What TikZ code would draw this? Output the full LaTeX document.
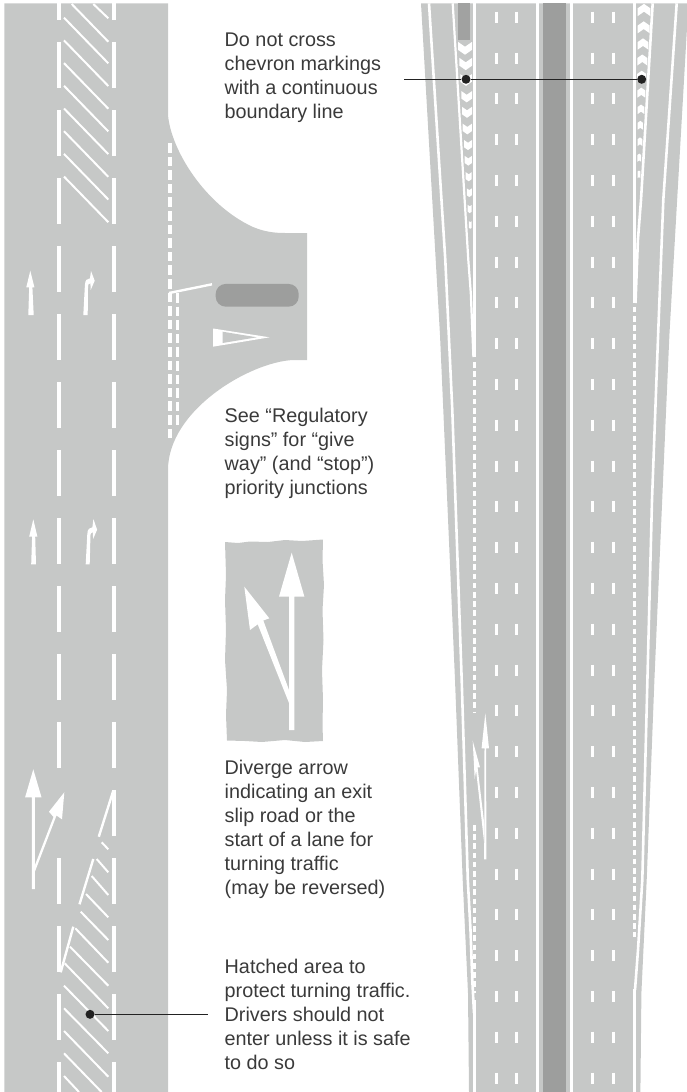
\documentclass[tikz,border=0pt]{standalone}
\usepackage{fontspec}
\setmainfont{Liberation Sans}
\definecolor{roadgrey}{HTML}{C6C8C7}
\definecolor{islandgrey}{HTML}{9D9E9D}
\definecolor{inkgrey}{HTML}{3A3A3A}
\definecolor{leaderink}{HTML}{222222}
\tikzset{
  x=1pt,y=-1pt,
  road/.style={fill=roadgrey,draw=none},
  paint/.style={fill=white,draw=none},
  dashline/.style={white,line width=3.7pt},
  hatchline/.style={white,line width=2pt},
  laneline/.style={white,line width=3pt},
  sideline/.style={white,line width=2.4pt},
  dotline/.style={white,line width=3.2pt,dash pattern=on 5.6pt off 3.6pt},
  giveway/.style={white,line width=4pt,dash pattern=on 9.6pt off 4pt},
  caption/.style={font=\fontsize{19.8}{24}\selectfont,text=inkgrey,align=left,anchor=north west,inner sep=0pt},
  leaderdot/.style={circle,fill=leaderink,draw=none,minimum size=9pt,inner sep=0pt},
  leader/.style={leaderink,line width=1.4pt},
}
\begin{document}
\begin{tikzpicture}
\useasboundingbox (0,0) rectangle (687,1092);
% ---------- left road
\fill[road] (4.4,3.3) -- (168,3.3) -- (168,115)
  .. controls (171,150) and (205,205) .. (253,227)
  .. controls (265,232) and (275,233) .. (285,233)
  -- (307,233) -- (307,360) -- (293,360)
  .. controls (250,362) and (168,410) .. (168,470)
  -- (168,1092) -- (4.4,1092) -- cycle;
% lane dashes
\foreach \yy in {42,110,...,1062}{
  \pgfmathsetmacro{\yb}{min(\yy+46,1092)}
  \draw[dashline] (114,\yy) -- (114,\yb);
  \ifnum\yy=790\else\draw[dashline] (59,\yy) -- (59,\yb);\fi
}
\draw[dashline] (59,3.3) -- (59,20);
\draw[dashline] (114,3.3) -- (114,20);
% upper hatching
\draw[hatchline] (71.7,4) -- (108.3,41.7);
\draw[hatchline] (93.3,4) -- (108.3,18.3);
\foreach \yy in {17.7,40.4,63.1,85.8,108.5,131.2,153.9,176.6}{
  \draw[hatchline] (64,\yy) -- (108.3,\yy+45.6);
}
% turning-lane arrows
\fill[paint] (30.3,270.7) -- (34.4,287.3) -- (32.4,287.3) -- (33.7,315) -- (28.3,315) -- (29.2,287.3) -- (26.3,287.3) -- cycle;
\fill[paint] (83.3,315) -- (84.9,285) .. controls (85.2,280) and (87,278.5) .. (90,278.3)
  -- (91,271) -- (94.7,280.7) -- (90.7,290) -- (90.4,283.2) .. controls (88.5,283.4) and (88,284.5) .. (88,288.3) -- (87.7,315) -- cycle;
\fill[paint] (33.3,519.3) -- (37.4,536.7) -- (35.2,536.7) -- (36,564.3) -- (31.2,564.3) -- (32.1,536.7) -- (29.2,536.7) -- cycle;
\fill[paint] (85.7,564.3) -- (87.3,534) .. controls (87.6,529) and (89.4,527.5) .. (92.4,527.3)
  -- (93.4,519) -- (97.1,529.7) -- (93.1,539) -- (92.8,532.2) .. controls (90.9,532.4) and (90.4,533.5) .. (90.4,537.3) -- (89.7,564.3) -- cycle;
% junction give-way markings
\draw[giveway] (170,143) -- (170,438);
\draw[white,line width=3pt,dash pattern=on 9.6pt off 4pt] (177.5,293) -- (177.5,425);
\coordinate (stopA) at (169,293);
\coordinate (stopB) at (212,284.3);
\draw[white,line width=2.4pt] (stopA) -- (stopB);
\node[name=island,fill=islandgrey,rounded corners=10pt,minimum width=83pt,minimum height=22.7pt,inner sep=0pt] at (257.2,295.3) {};
\fill[paint] (213,328.5) -- (269.5,337.3) -- (213,346.7) -- cycle;
\fill[road] (222.5,331.7) -- (256.7,337.3) -- (222.5,343) -- cycle;
% lower arrows left road
\fill[paint] (33.3,769.3) -- (41.5,797.3) -- (34.8,797.3) -- (34.8,865.5) -- (53.5,817) -- (49,811.7) -- (64.3,792.3) -- (62,819.3) -- (56.5,815.5) -- (34.8,872) -- (34.8,889) -- (31.8,889) -- (31.8,797.3) -- (25.1,797.3) -- cycle;
% taper marks
\draw[sideline] (113.3,790.7) -- (98.8,836.7);
\draw[sideline] (93.3,859) -- (79.5,904.3);
\draw[sideline] (73.3,926.7) -- (60.7,972.3);
% lower hatching
\draw[hatchline] (101.7,842.3) -- (108.3,849.3);
\draw[hatchline] (96.7,859) -- (108.3,872.3);
\draw[hatchline] (91.7,876) -- (108.3,895);
\draw[hatchline] (86,894) -- (108.3,917.3);
\draw[hatchline] (80.7,911.7) -- (108.3,940);
\draw[hatchline] (75.3,928.3) -- (108.3,962.7);
\draw[hatchline] (70,946.7) -- (108.3,985.7);
\draw[hatchline] (64.7,963.3) -- (108.3,1008.3);
\draw[hatchline] (64,985.7) -- (108.3,1031);
\draw[hatchline] (64,1008.3) -- (108.3,1053.3);
\draw[hatchline] (64,1031) -- (108.3,1076.7);
\draw[hatchline] (64,1053.3) -- (101.6,1092);
\draw[hatchline] (64,1076) -- (79,1092);
% ---------- diverge panel
\fill[road] (225,542) -- (238,543) -- (250,541.5) -- (268,542) -- (285,540) -- (302,541) -- (323,539.5)
  -- (322.5,560) -- (324,585) -- (322.5,610) -- (323.5,640) -- (322,670) -- (323,700) -- (322.5,725) -- (323,741)
  -- (305,742) -- (285,740) -- (262,742) -- (245,741) -- (227,740.5)
  -- (226,715) -- (227,690) -- (225,660) -- (226,630) -- (225,600) -- (226,575) -- cycle;
\fill[paint] (291.7,552.7) -- (304.4,596.7) -- (294.3,596.7) -- (294.3,730) -- (289,730) -- (289,703) -- (257.7,624.3) -- (250,630) -- (244.3,586.7) -- (269.3,618.3) -- (263.3,620.5) -- (289,690) -- (289,596.7) -- (279,596.7) -- cycle;
% ---------- right road
\fill[road] (421,3.3) -- (440,335) -- (443.3,410) -- (455,680) -- (462.7,880) -- (468,993) -- (469,1092)
  -- (640.4,1092) -- (641.4,993) -- (646.7,880) -- (654.4,680) -- (666.1,410) -- (669.4,335) -- (688.4,3.3) -- cycle;
\fill[islandgrey] (543.3,3.3) rectangle (566,1092);
\draw[laneline] (537.7,3.3) -- (537.7,1092);
\draw[white,line width=3.6pt] (571.3,3.3) -- (571.3,1092);
\foreach \k in {0,...,26}{
  \pgfmathsetmacro{\ya}{11.7+40.8*\k}
  \pgfmathsetmacro{\yb}{\ya+11}
  \draw[laneline] (496,\ya) -- (496,\yb);
  \draw[laneline] (516.7,\ya) -- (516.7,\yb);
  \draw[laneline] (592.3,\ya) -- (592.3,\yb);
  \draw[laneline] (613,\ya) -- (613,\yb);
}
% outer edge lines
\draw[white,line width=2.6pt,line join=round] (429,3.3) -- (445.3,260) -- (452.3,410) -- (461.7,680) -- (467.8,880) -- (470.5,930) -- (472.3,980) -- (474,1013);
\draw[white,line width=2.6pt,line join=round] (676.7,3.3) -- (663.3,200) -- (658.3,330) -- (652,500) -- (642.3,880) -- (638,950) -- (635,990);
% inner boundary lines
\draw[white,line width=3.2pt] (474.3,3.3) -- (474.3,357);
\draw[white,line width=2.2pt,line join=round] (452.7,3.3) -- (468.3,260) -- (470.8,293) -- (473.4,357);
\draw[white,line width=3.2pt] (634.8,3.3) -- (634.8,303);
\draw[white,line width=2.6pt,line join=round] (652.7,3.3) -- (641,200) -- (637.9,240) -- (635.5,303);
% dotted continuations
\draw[dotline] (474.3,362) -- (474.3,712);
\draw[dotline] (474.3,825) -- (474.3,992.7);
\draw[laneline] (474.3,1000) -- (474.3,1092);
\draw[dotline] (634.3,306.7) -- (634.3,937);
\draw[laneline] (634.9,989) -- (634.9,1092);
% grey block and chevrons
\fill[islandgrey!90!roadgrey] (458.3,3.3) rectangle (470,40);
\foreach \yy/\xx/\ww in {48.3/465/14,64/465.7/12.7,80/466/11.5,96.7/466.7/10.7,112.3/467/10,129/467.3/9.3,145/468/8,160.7/468.3/7.3,176.7/468.7/6,192.7/469.3/5,209/469.7/4,225/470.3/2.7}{
  \pgfmathsetmacro{\dd}{0.35*\ww}
  \pgfmathsetmacro{\tt}{6.3+0.12*\ww}
  \pgfmathsetmacro{\hh}{\dd+\tt}
  \fill[paint] (\xx-\ww/2,\yy-\hh/2) -- (\xx,\yy-\hh/2+\dd) -- (\xx+\ww/2,\yy-\hh/2) -- (\xx+\ww/2,\yy-\hh/2+\tt) -- (\xx,\yy+\hh/2) -- (\xx-\ww/2,\yy-\hh/2+\tt) -- cycle;
}
\foreach \yy/\xx/\ww in {10/644/12.7,27.3/643.7/12,44/643/10.7,60/642.3/10,76/641.7/9,92.7/641.3/8,109.3/641/6.7,125.3/640.3/5.3,141.7/640/4.7,157.7/639.3/3.7,174.3/639/2.7}{
  \pgfmathsetmacro{\dd}{0.35*\ww}
  \pgfmathsetmacro{\tt}{6.3+0.12*\ww}
  \pgfmathsetmacro{\hh}{\dd+\tt}
  \fill[paint] (\xx-\ww/2,\yy+\hh/2) -- (\xx,\yy+\hh/2-\dd) -- (\xx+\ww/2,\yy+\hh/2) -- (\xx+\ww/2,\yy+\hh/2-\tt) -- (\xx,\yy-\hh/2) -- (\xx-\ww/2,\yy+\hh/2-\tt) -- cycle;
}
% diverge arrow on right road
\fill[paint] (485.3,713.3) -- (489,748.3) -- (486.1,748.3) -- (486.4,859.3) -- (484.2,859.3) -- (484.5,748.3) -- (481.6,748.3) -- cycle;
\fill[paint] (472.7,740.7) -- (480,767.3) -- (477.6,767.5) -- (484.4,825) -- (484.4,845) -- (476.1,770.5) -- (474.7,779) -- cycle;
% ---------- leaders
\node[leaderdot] (dotL) at (466,79.3) {};
\node[leaderdot] (dotR) at (641.7,79.3) {};
\coordinate (topfree) at (404,79.3);
\draw[leader] (topfree) -- (dotL) -- (dotR);
\node[leaderdot] (dotH) at (90,1014.3) {};
\coordinate (hatchfree) at (208,1014.3);
\draw[leader] (dotH) -- (hatchfree);
% ---------- captions
\node[caption] (capA) at (224.5,33) {Do not cross\\chevron markings\\with a continuous\\boundary line};
\node[caption] (capB) at (224.5,408) {See “Regulatory\\signs” for “give\\way” (and “stop”)\\priority junctions};
\node[caption] (capC) at (224.5,760) {Diverge arrow\\indicating an exit\\slip road or the\\start of a lane for\\turning traffic\\(may be reversed)};
\node[caption] (capD) at (224.5,959) {Hatched area to\\protect turning traffic.\\Drivers should not\\enter unless it is safe\\to do so};
\end{tikzpicture}
\end{document}
